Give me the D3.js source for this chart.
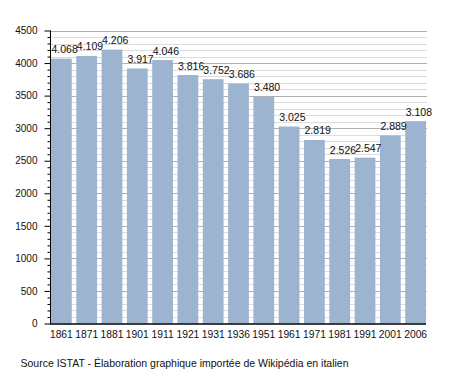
<!DOCTYPE html>
<html><head><meta charset="utf-8">
<script src="https://cdn.jsdelivr.net/npm/d3@7"></script>
<style>body{margin:0;background:#fff}svg{display:block;font-family:"Liberation Sans",Arial,sans-serif}</style>
</head><body><svg id="c" width="455" height="373"></svg>
<script>
const years = ["1861","1871","1881","1901","1911","1921","1931","1936","1951","1961","1971","1981","1991","2001","2006"];
const population = [4068,4109,4206,3917,4046,3816,3752,3686,3480,3025,2819,2526,2547,2889,3108];
const labels = ["4.068","4.109","4.206","3.917","4.046","3.816","3.752","3.686","3.480","3.025","2.819","2.526","2.547","2.889","3.108"];
const yTicks = [0,500,1000,1500,2000,2500,3000,3500,4000,4500];
const source = "Source ISTAT - Élaboration graphique importée de Wikipédia en italien";

const svg = d3.select("#c");
const x = d3.scaleBand().domain(years).range([51,426]).paddingInner(0.18).paddingOuter(0);
const y = d3.scaleLinear().domain([0,4500]).range([323.5,30.5]);
const minor = d3.range(0,4501,100);

// grid
svg.append("g").selectAll("line").data(minor.filter(v=>v%500!==0)).join("line")
  .attr("x1",50).attr("x2",427).attr("y1",d=>Math.round(y(d))+0.5).attr("y2",d=>Math.round(y(d))+0.5)
  .attr("stroke","#dcdcdc").attr("stroke-width",1);
svg.append("g").selectAll("line").data(yTicks.filter(v=>v>0)).join("line")
  .attr("x1",50).attr("x2",427).attr("y1",d=>Math.round(y(d))+0.5).attr("y2",d=>Math.round(y(d))+0.5)
  .attr("stroke","#b0b0b0").attr("stroke-width",1);

// bars
svg.append("g").selectAll("rect").data(population).join("rect")
  .attr("x",(d,i)=>x(years[i])).attr("width",x.bandwidth())
  .attr("y",d=>y(d)).attr("height",d=>y(0)-y(d))
  .attr("fill","#9cb4d0");

// bar labels
svg.append("g").selectAll("text").data(population).join("text")
  .attr("x",(d,i)=>x(years[i])+0.5).attr("y",d=>y(d)-5.5)
  .attr("font-size",10.5).attr("fill","#111")
  .text((d,i)=>labels[i]);

// y axis
const yAxis = svg.append("g").attr("transform","translate(50.5,0)")
  .call(d3.axisLeft(y).tickValues(yTicks).tickSize(6).tickPadding(7).tickFormat(d3.format("d")));
yAxis.select(".domain").remove();
yAxis.selectAll("text").attr("font-size",10).attr("font-family","Liberation Sans, Arial, sans-serif").attr("fill","#111");
yAxis.selectAll("line").attr("stroke","#000");
svg.append("g").attr("transform","translate(50.5,0)")
  .call(d3.axisLeft(y).tickValues(minor.filter(v=>v%500!==0)).tickSize(3).tickFormat(""))
  .call(g=>g.select(".domain").remove())
  .selectAll("line").attr("stroke","#000");
svg.append("line").attr("x1",50.5).attr("x2",50.5).attr("y1",y(4500)).attr("y2",y(0)).attr("stroke","#000");

// x axis
const xAxis = svg.append("g").attr("transform",`translate(0,${y(0)})`)
  .call(d3.axisBottom(x).tickSize(0).tickPadding(7));
xAxis.select(".domain").remove();
xAxis.selectAll("text").attr("font-size",10.3).attr("font-family","Liberation Sans, Arial, sans-serif").attr("fill","#111");
svg.append("line").attr("x1",50).attr("x2",426).attr("y1",y(0)+0.5).attr("y2",y(0)+0.5).attr("stroke","#000").attr("stroke-width",1.5);

svg.append("text").attr("x",20.5).attr("y",366.5).attr("font-size",10.5).attr("fill","#111").text(source);
</script></body></html>
